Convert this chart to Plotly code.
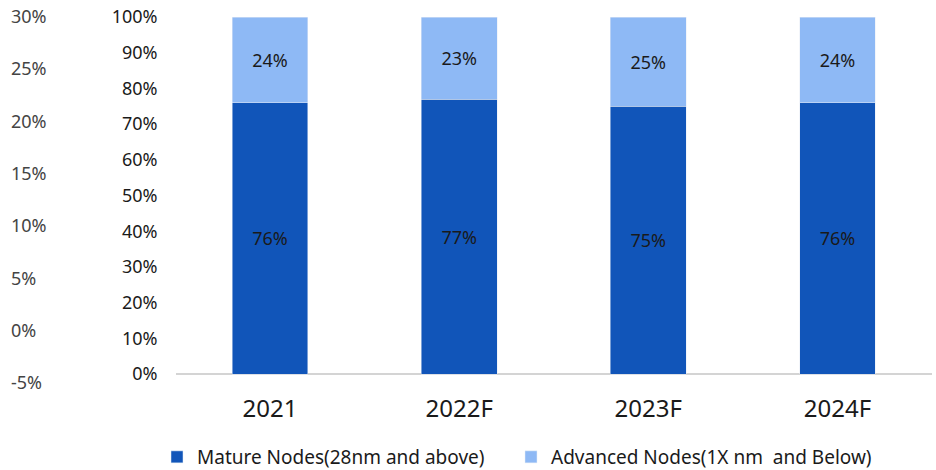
import plotly.graph_objects as go

# Node mix of wafer capacity by year (%)
years = ["2021", "2022F", "2023F", "2024F"]
mature = [76, 77, 75, 76]
advanced = [24, 23, 25, 24]
mature_name = "Mature Nodes(28nm and above)"
advanced_name = "Advanced Nodes(1X nm  and Below)"

inner_ticks = list(range(0, 101, 10))
outer_ticks = list(range(-5, 31, 5))

FONT = "Noto Sans"
DARK = "#1155B9"
LIGHT = "#8EB9F5"
TXT = "#1a1a1a"

W, H = 936, 470
ml, mr, mt, mb = 8, 4, 2, 70
pw, ph = W - ml - mr, H - mt - mb


def py(px):
    """pixel row -> paper fraction"""
    return (H - mb - px) / ph


def px_x(px):
    """pixel column -> paper fraction"""
    return (px - ml) / pw


fig = go.Figure()
series = [(mature_name, mature, DARK, "legend"),
          (advanced_name, advanced, LIGHT, "legend2")]
for name, vals, col, leg in series:
    fig.add_trace(go.Bar(
        x=years, y=vals, name=name, marker_color=col, legend=leg,
        text=[f"{v}%" for v in vals], textposition="inside",
        insidetextanchor="middle", textangle=0,
        textfont=dict(color=TXT, size=18, family=FONT),
    ))
# secondary percentage scale on the far left, on its own hidden x axis
fig.add_trace(go.Scatter(x=[0], y=[None], xaxis="x2", yaxis="y2",
                         showlegend=False, hoverinfo="skip"))

# inner axis: 100% at row 17, 0% at row 374
top_px, zero_px, bot_px = 17, 374, 381
per = (zero_px - top_px) / 100.0
y_lo = -(bot_px - zero_px) / per

# outer axis: 30% at row 16.5, -5% at row 383
o_per = (383 - 16.5) / 35.0
o_hi = 30 + (16.5 - mt) / o_per
o_lo = -5 - ((H - mb) - 383) / o_per

legend_style = dict(orientation="h", xanchor="left", yref="container",
                    y=13 / H, yanchor="middle", font=dict(size=19),
                    itemwidth=30, bgcolor="rgba(0,0,0,0)")

fig.update_layout(
    width=W, height=H,
    margin=dict(l=ml, r=mr, t=mt, b=mb, autoexpand=False),
    barmode="stack", bargap=0.6,
    plot_bgcolor="white", paper_bgcolor="white",
    font=dict(family=FONT, color=TXT, size=18),
    xaxis=dict(domain=[px_x(175.5), 1], anchor="y", showline=False,
               showgrid=False, ticks="", tickfont=dict(size=24),
               ticklabelstandoff=11, automargin=False),
    yaxis=dict(domain=[py(bot_px), py(top_px)], range=[y_lo, 100],
               anchor="x", tickvals=inner_ticks,
               ticktext=[f"{v}%" for v in inner_ticks],
               showgrid=False, zeroline=True, zerolinecolor="#d4d4d4",
               zerolinewidth=1.5, showline=False, ticks="",
               ticklabelstandoff=17, tickfont=dict(size=18),
               automargin=False),
    xaxis2=dict(domain=[0, 0.01], anchor="y2", visible=False,
                range=[0, 1], automargin=False),
    yaxis2=dict(domain=[0, 1], range=[o_lo, o_hi], tickvals=outer_ticks,
                ticktext=[f"{v}%" for v in outer_ticks],
                anchor="x2", side="left",
                ticklabelposition="inside", showgrid=False,
                zeroline=False, showline=False, ticks="",
                tickfont=dict(size=18), automargin=False),
    legend=dict(x=px_x(157), **legend_style),
    legend2=dict(x=px_x(511), **legend_style),
    showlegend=True,
)

fig.write_html("out.html")
